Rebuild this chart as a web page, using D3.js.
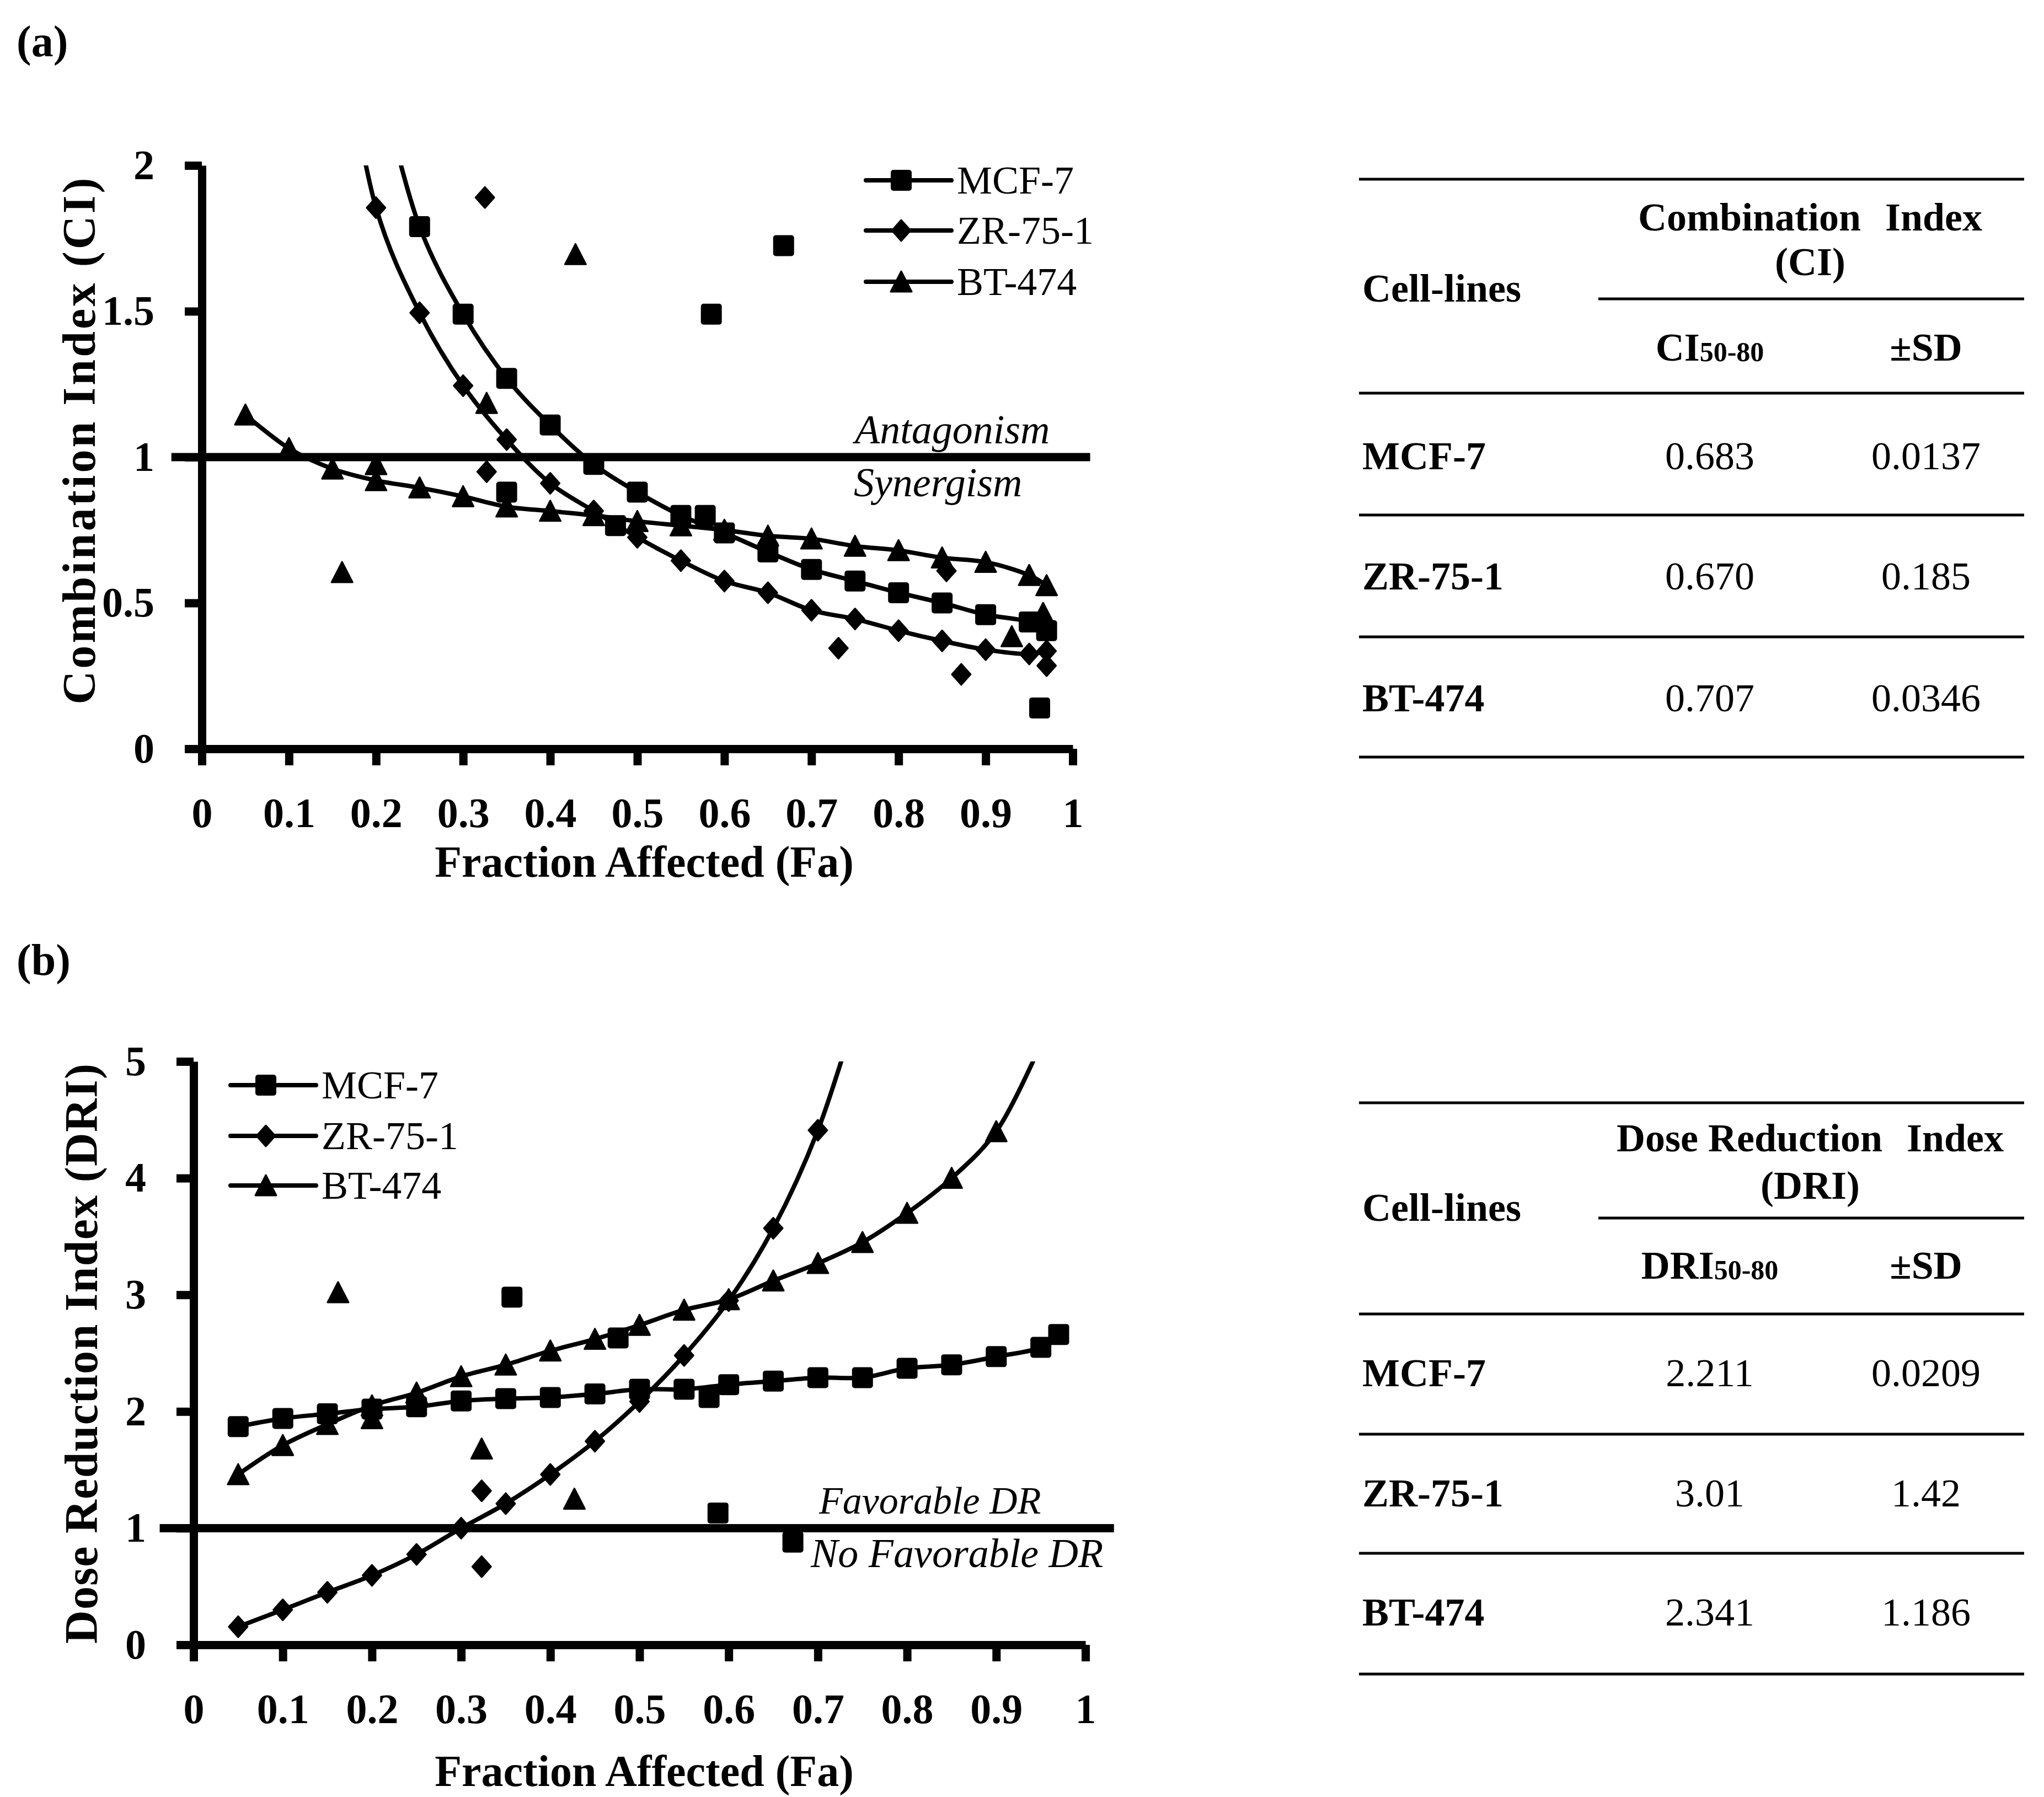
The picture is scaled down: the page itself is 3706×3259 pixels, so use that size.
<!DOCTYPE html>
<html>
<head>
<meta charset="utf-8">
<script src="https://cdn.jsdelivr.net/npm/d3@7"></script>
<style>
  html, body { margin: 0; padding: 0; background: #fff; }
  svg { display: block; }
</style>
</head>
<body>
<svg id="fig"></svg>
<script>
const W = 3706, H = 3259;
const FONT = "'Palatino Linotype','Book Antiqua',Palatino,'Liberation Serif',serif";

// ---- data ----
const cellLines = ["MCF-7", "ZR-75-1", "BT-474"];
const faGrid = [0.05, 0.10, 0.15, 0.20, 0.25, 0.30, 0.35, 0.40, 0.45, 0.50,
                0.55, 0.60, 0.65, 0.70, 0.75, 0.80, 0.85, 0.90, 0.95, 0.97];
const ciTicks = [0, 0.5, 1, 1.5, 2];
const driTicks = [0, 1, 2, 3, 4, 5];
const faTicks = [0, 0.1, 0.2, 0.3, 0.4, 0.5, 0.6, 0.7, 0.8, 0.9, 1];

// (a) Fa-CI simulated curves (null = no point)
const ciMCF7  = [null, null, null, 2.35, 1.79, 1.49, 1.27, 1.11, 0.975, 0.88, 0.80, 0.74, 0.675, 0.615, 0.575, 0.535, 0.50, 0.46, 0.435, 0.405];
const ciZR751 = [null, null, 2.7, 1.855, 1.495, 1.245, 1.06, 0.91, 0.815, 0.725, 0.645, 0.575, 0.535, 0.475, 0.445, 0.405, 0.37, 0.34, 0.325, 0.335];
const ciBT474 = [1.145, 1.03, 0.96, 0.92, 0.895, 0.865, 0.83, 0.815, 0.80, 0.78, 0.765, 0.75, 0.73, 0.72, 0.695, 0.68, 0.655, 0.64, 0.595, 0.56];
// (a) actual data points [Fa, CI]
const ciMCF7Obs  = [[0.35, 0.88], [0.475, 0.765], [0.578, 0.80], [0.585, 1.49], [0.668, 1.725], [0.962, 0.14]];
const ciZR751Obs = [[0.325, 1.89], [0.327, 0.95], [0.731, 0.345], [0.855, 0.61], [0.872, 0.255], [0.97, 0.285]];
const ciBT474Obs = [[0.161, 0.605], [0.20, 0.975], [0.327, 1.185], [0.429, 1.695], [0.93, 0.385], [0.966, 0.465]];

// (b) Fa-DRI simulated curves
const driMCF7  = [1.87, 1.94, 1.98, 2.02, 2.04, 2.09, 2.11, 2.12, 2.15, 2.19, 2.19, 2.23, 2.26, 2.29, 2.29, 2.37, 2.40, 2.47, 2.55, 2.66];
const driZR751 = [0.155, 0.30, 0.45, 0.595, 0.775, 1.0, 1.21, 1.46, 1.745, 2.085, 2.48, 2.95, 3.57, 4.41, 5.6, null, null, null, null, null];
const driBT474 = [1.46, 1.71, 1.89, 2.05, 2.16, 2.30, 2.40, 2.52, 2.62, 2.74, 2.87, 2.96, 3.12, 3.27, 3.45, 3.70, 4.00, 4.40, 5.15, null];
// (b) actual data points [Fa, DRI]
const driMCF7Obs  = [[0.357, 2.98], [0.476, 2.63], [0.578, 2.12], [0.588, 1.13], [0.672, 0.88]];
const driZR751Obs = [[0.323, 1.32], [0.323, 0.67]];
const driBT474Obs = [[0.162, 3.02], [0.20, 1.94], [0.323, 1.68], [0.427, 1.25]];

// tables
const ci5080   = ["0.683", "0.670", "0.707"];
const ciSD     = ["0.0137", "0.185", "0.0346"];
const dri5080  = ["2.211", "3.01", "2.341"];
const driSD    = ["0.0209", "1.42", "1.186"];

// ---- drawing ----
const svg = d3.select("#fig").attr("width", W).attr("height", H)
  .attr("font-family", FONT);
svg.append("rect").attr("width", W).attr("height", H).attr("fill", "#fff");

const shapes = ["square", "diamond", "triangle"];

function marker(g, shape, cx, cy) {
  if (shape === "square") {
    g.append("rect").attr("x", cx - 19).attr("y", cy - 19)
      .attr("width", 38).attr("height", 38).attr("rx", 5).attr("fill", "#000");
  } else if (shape === "diamond") {
    g.append("path").attr("d", `M${cx},${cy - 19}L${cx + 17},${cy}L${cx},${cy + 19}L${cx - 17},${cy}Z`)
      .attr("fill", "#000").attr("stroke", "#000").attr("stroke-width", 3).attr("stroke-linejoin", "round");
  } else {
    g.append("path").attr("d", `M${cx},${cy - 19}L${cx + 19},${cy + 18}L${cx - 19},${cy + 18}Z`)
      .attr("fill", "#000").attr("stroke", "#000").attr("stroke-width", 3).attr("stroke-linejoin", "round");
  }
}

function drawPanel(p) {
  const x = d3.scaleLinear().domain([0, 1]).range([p.x0, p.x1]);
  const y = d3.scaleLinear().domain([0, p.yMax]).range([p.y0, p.yTop]);
  const g = svg.append("g");

  // panel label
  g.append("text").attr("x", 30).attr("y", p.labelY)
    .attr("font-size", 80).attr("font-weight", "bold").text(p.label);

  // reference line at 1
  g.append("line")
    .attr("x1", x(p.refFrom)).attr("x2", x(p.refTo))
    .attr("y1", y(1)).attr("y2", y(1))
    .attr("stroke", "#000").attr("stroke-width", 15);

  // axes
  const ax = g.append("g").attr("transform", `translate(0,${p.y0})`)
    .call(d3.axisBottom(x).tickValues(faTicks).tickSize(30).tickSizeOuter(0)
      .tickPadding(58).tickFormat(d3.format("~f")));
  const ay = g.append("g").attr("transform", `translate(${p.x0},0)`)
    .call(d3.axisLeft(y).tickValues(p.yTicks).tickSize(31).tickSizeOuter(0)
      .tickPadding(55).tickFormat(d3.format("~f")));
  [ax, ay].forEach(a => {
    a.attr("font-family", FONT).attr("font-size", 76).attr("font-weight", "bold");
    a.selectAll("path, line").attr("stroke", "#000").attr("stroke-width", 15);
    a.selectAll("text").attr("fill", "#000");
  });

  // axis titles
  g.append("text").attr("x", p.xTitleX).attr("y", p.xTitleY)
    .attr("text-anchor", "middle").attr("dominant-baseline", "central")
    .attr("font-size", 80).attr("font-weight", "bold").text("Fraction Affected (Fa)");
  g.append("text")
    .attr("transform", `translate(${p.yTitleX},${p.yTitleY}) rotate(-90)`)
    .attr("text-anchor", "middle").attr("dominant-baseline", "central")
    .attr("font-size", 84).attr("font-weight", "bold")
    .attr("textLength", p.yTitleLen).attr("lengthAdjust", "spacing")
    .text(p.yTitle);

  // annotations around the line at 1
  p.notes.forEach(n => {
    g.append("text").attr("x", n.x).attr("y", y(1) + n.dy)
      .attr("dominant-baseline", "central").attr("font-size", n.size)
      .attr("font-style", "italic").text(n.text);
  });

  // clip to plot top
  const clipId = "clip-" + p.label.replace(/\W/g, "");
  svg.append("clipPath").attr("id", clipId).append("rect")
    .attr("x", 0).attr("y", p.yTop).attr("width", W).attr("height", p.y0 - p.yTop + 60);
  const plot = g.append("g").attr("clip-path", `url(#${clipId})`);

  const line = d3.line().x(d => x(d[0])).y(d => y(d[1])).curve(d3.curveCatmullRom.alpha(0.5));

  p.series.forEach((s, i) => {
    const pts = faGrid.map((f, k) => [f, s.curve[k]]).filter(d => d[1] != null);
    plot.append("path").attr("d", line(pts)).attr("fill", "none")
      .attr("stroke", "#000").attr("stroke-width", 8).attr("stroke-linejoin", "round");
    const mg = plot.append("g");
    pts.forEach(d => marker(mg, shapes[i], x(d[0]), y(d[1])));
    s.obs.forEach(d => marker(mg, shapes[i], x(d[0]), y(d[1])));
  });

  // legend
  cellLines.forEach((name, i) => {
    const ly = p.legendRows[i];
    g.append("line").attr("x1", p.legendX).attr("x2", p.legendX + 155)
      .attr("y1", ly).attr("y2", ly)
      .attr("stroke", "#000").attr("stroke-width", 8).attr("stroke-linecap", "round");
    marker(g, shapes[i], p.legendX + 64, ly);
    g.append("text").attr("x", p.legendX + 165).attr("y", ly)
      .attr("dominant-baseline", "central").attr("font-size", 72).text(name);
  });
}

function drawTable(t) {
  const g = svg.append("g");
  const L = 2464, R = 3670, c1 = 3100, c2 = 3492;
  t.lines.forEach((ly, i) => {
    g.append("line").attr("x1", i === 1 ? 2898 : L).attr("x2", R)
      .attr("y1", ly).attr("y2", ly).attr("stroke", "#000").attr("stroke-width", 5);
  });
  const txt = (xx, yy, s, opts = {}) => g.append("text").attr("x", xx).attr("y", yy)
    .attr("dominant-baseline", "central").attr("font-size", opts.size || 72)
    .attr("font-weight", opts.bold ? "bold" : "normal")
    .attr("text-anchor", opts.anchor || "start").text(s);

  // header title: wider gap before "Index"
  const ttl = txt(3282, t.titleY, t.title, { bold: true, anchor: "middle" });
  ttl.append("tspan").attr("dx", 26).text("Index");
  txt(3282, t.title2Y, t.title2, { bold: true, anchor: "middle" });
  txt(L + 6, t.cellY, "Cell-lines", { bold: true });
  const sub = txt(c1, t.subY, t.subMain, { bold: true, anchor: "middle" });
  sub.append("tspan").attr("font-size", 50).attr("dy", 8).text("50-80");
  txt(c2, t.subY, "±SD", { bold: true, anchor: "middle" });
  cellLines.forEach((name, i) => {
    txt(L + 6, t.rowY[i], name, { bold: true });
    txt(c1, t.rowY[i], t.v1[i], { anchor: "middle" });
    txt(c2, t.rowY[i], t.v2[i], { anchor: "middle" });
  });
}

drawPanel({
  label: "(a)", labelY: 102,
  x0: 366, x1: 1945, y0: 1358, yTop: 300, yMax: 2, yTicks: ciTicks,
  refFrom: -0.035, refTo: 1.02,
  xTitleX: 1168, xTitleY: 1563,
  yTitleX: 143, yTitleY: 800, yTitleLen: 955, yTitle: "Combination Index (CI)",
  notes: [{ text: "Antagonism", x: 1550, dy: -50, size: 74 }, { text: "Synergism", x: 1548, dy: 46, size: 74 }],
  legendX: 1570, legendRows: [327, 418, 511],
  series: [
    { curve: ciMCF7, obs: ciMCF7Obs },
    { curve: ciZR751, obs: ciZR751Obs },
    { curve: ciBT474, obs: ciBT474Obs }
  ]
});

drawPanel({
  label: "(b)", labelY: 1768,
  x0: 351, x1: 1968, y0: 2983, yTop: 1925, yMax: 5, yTicks: driTicks,
  refFrom: -0.038, refTo: 1.032,
  xTitleX: 1168, xTitleY: 3212,
  yTitleX: 147, yTitleY: 2455, yTitleLen: 1052, yTitle: "Dose Reduction Index (DRI)",
  notes: [{ text: "Favorable DR", x: 1485, dy: -50, size: 70 }, { text: "No Favorable DR", x: 1470, dy: 46, size: 74 }],
  legendX: 418, legendRows: [1968, 2060, 2150],
  series: [
    { curve: driMCF7, obs: driMCF7Obs },
    { curve: driZR751, obs: driZR751Obs },
    { curve: driBT474, obs: driBT474Obs }
  ]
});

drawTable({
  lines: [325, 542, 713, 934, 1155, 1373],
  title: "Combination ", title2: "(CI)", titleY: 394, title2Y: 475, cellY: 523,
  subMain: "CI", subY: 630, rowY: [827, 1045, 1266], v1: ci5080, v2: ciSD
});

drawTable({
  lines: [2000, 2209, 2383, 2601, 2817, 3036],
  title: "Dose Reduction ", title2: "(DRI)", titleY: 2064, title2Y: 2150, cellY: 2190,
  subMain: "DRI", subY: 2295, rowY: [2490, 2708, 2924], v1: dri5080, v2: driSD
});
</script>
</body>
</html>
